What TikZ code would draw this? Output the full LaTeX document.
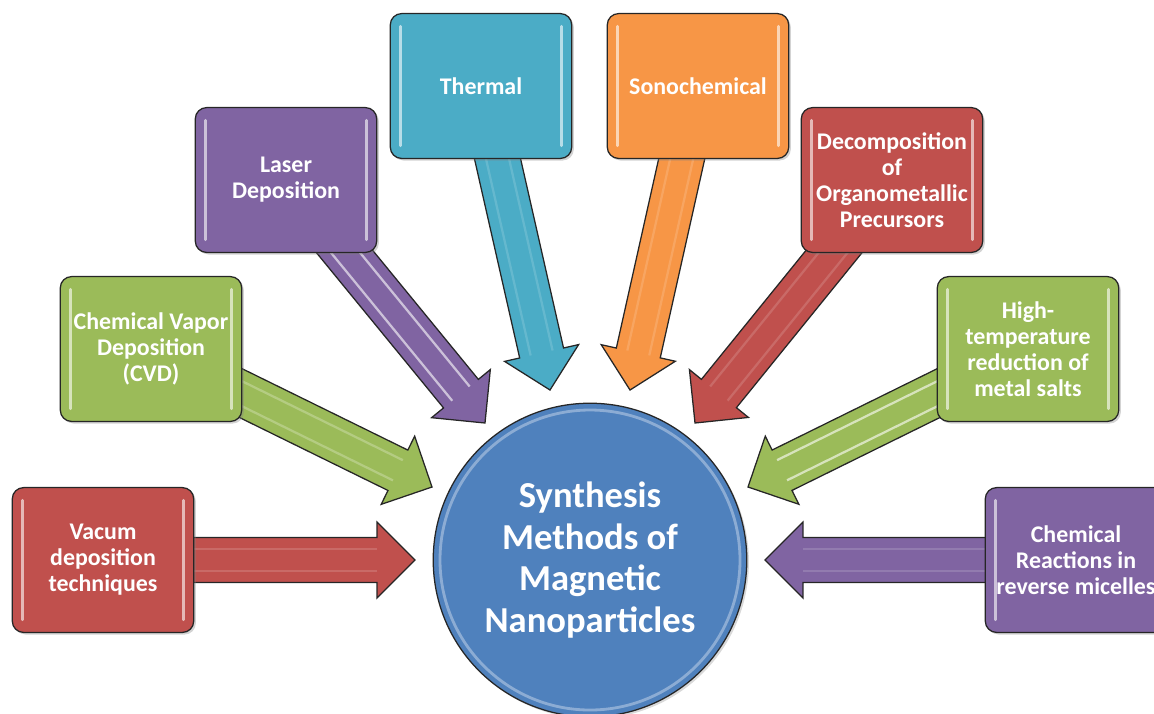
\documentclass[tikz,border=0pt]{standalone}
\usepackage{fontspec}
\setmainfont{Carlito}
\usepackage{tikz}
\usetikzlibrary{calc,shapes,positioning}
\usetikzlibrary{shadows,backgrounds}

\definecolor{mred}{HTML}{C0504D}
\definecolor{mgreen}{HTML}{9BBB59}
\definecolor{mpurple}{HTML}{8064A2}
\definecolor{mcyan}{HTML}{4BACC6}
\definecolor{morange}{HTML}{F79646}
\definecolor{mblue}{HTML}{4F81BD}

% block arrow: from, tip, colour, stripe opacity
\newcommand{\fatarrow}[4]{%
  \coordinate (fa-h) at ($(#2)!27pt!(#1)$);
  \filldraw[barrow, fill=#3]
    ($(#1)!16pt!90:(#2)$) -- ($(fa-h)!16pt!-90:(#1)$) -- ($(fa-h)!27pt!-90:(#1)$) -- (#2)
    -- ($(fa-h)!27pt!90:(#1)$) -- ($(fa-h)!16pt!90:(#1)$) -- ($(#1)!16pt!-90:(#2)$) -- cycle;
  \draw[white, opacity=#4, line width=1.6pt]
    ($(#1)!8pt!90:(#2)$) -- ($(fa-h)!8pt!-90:(#1)$)
    ($(#1)!8pt!-90:(#2)$) -- ($(fa-h)!8pt!90:(#1)$);
}

\begin{document}
\begin{tikzpicture}[x=0.025cm,y=-0.025cm]
  \tikzstyle{mbox} = [line width=0.9pt, draw=black!85, rounded corners=8pt, minimum width=129pt, minimum height=103pt,
    align=center, text=white, inner sep=2pt, font=\bfseries\fontsize{17}{18.5}\selectfont,
    drop shadow={opacity=0.35, shadow xshift=1.5pt, shadow yshift=-1.5pt},
    path picture={\draw[white, opacity=0.6, line width=2pt, line cap=round]
      ([xshift=7pt,yshift=-9pt]path picture bounding box.north west) -- ([xshift=7pt,yshift=9pt]path picture bounding box.south west)
      ([xshift=-7pt,yshift=-9pt]path picture bounding box.north east) -- ([xshift=-7pt,yshift=9pt]path picture bounding box.south east);}]
  \tikzstyle{hub} = [line width=0.9pt, draw=black!85, circle, fill=mblue, minimum size=223pt, inner sep=0pt,
    align=center, text=white, font=\bfseries\fontsize{26}{29.5}\selectfont,
    drop shadow={opacity=0.3, shadow xshift=1.5pt, shadow yshift=-1.5pt}]
  \tikzstyle{barrow} = [line width=0.9pt, draw=black!85, line join=miter]

  \useasboundingbox (0,0) rectangle (1154,713);

  % centre
  \node[hub] (core) at (590,560) {Synthesis\\Methods of\\Magnetic\\Nanoparticles};
  \draw[white, opacity=0.35, line width=2pt] (core.center) circle[radius=150];

  % methods
  \node[mbox, fill=mred] (vac) at (103,560) {Vacum\\deposition\\techniques};
  \node[mbox, fill=mgreen] (cvd) at (151,349) {Chemical Vapor\\Deposition\\(CVD)};
  \node[mbox, fill=mpurple] (laser) at (286,180) {Laser\\Deposition};
  \node[mbox, fill=mcyan] (therm) at (481,86) {Thermal};
  \node[mbox, fill=morange] (sono) at (698,86) {Sonochemical};
  \node[mbox, fill=mred] (decomp) at (892,180) {Decomposition\\of\\Organometallic\\Precursors};
  \node[mbox, fill=mgreen] (htred) at (1028,349) {High-\\temperature\\reduction of\\metal salts};
  \node[mbox, fill=mpurple] (revmic) at (1076,560) {Chemical\\Reactions in\\reverse micelles};

  % arrow tips
  \coordinate (t-vac) at (415,560);
  \coordinate (t-cvd) at (432,487);
  \coordinate (t-laser) at (485,423);
  \coordinate (t-therm) at (550,390);
  \coordinate (t-sono) at (630,390);
  \coordinate (t-decomp) at (695,423);
  \coordinate (t-htred) at (748,487);
  \coordinate (t-revmic) at (765,560);

  \begin{scope}[on background layer]
    \fatarrow{vac}{t-vac}{mred}{0.15}
    \fatarrow{cvd}{t-cvd}{mgreen}{0.25}
    \fatarrow{laser}{t-laser}{mpurple}{0.6}
    \fatarrow{therm}{t-therm}{mcyan}{0.15}
    \fatarrow{sono}{t-sono}{morange}{0.15}
    \fatarrow{decomp}{t-decomp}{mred}{0.15}
    \fatarrow{htred}{t-htred}{mgreen}{0.6}
    \fatarrow{revmic}{t-revmic}{mpurple}{0.15}
  \end{scope}
\end{tikzpicture}
\end{document}
